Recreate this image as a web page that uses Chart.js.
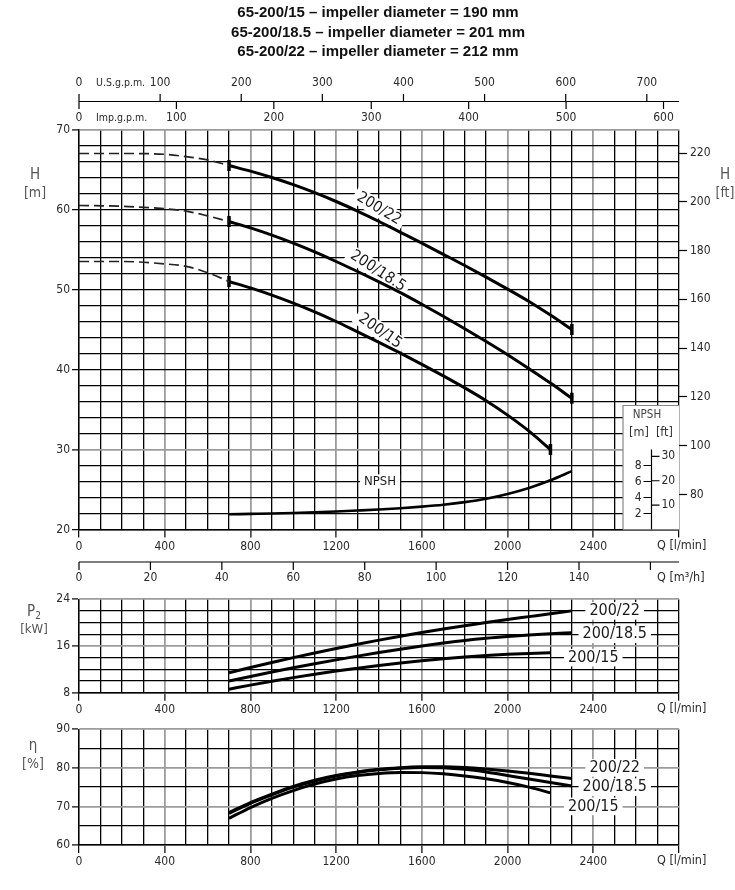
<!DOCTYPE html>
<html>
<head>
<meta charset="utf-8">
<script src="https://cdn.jsdelivr.net/npm/chart.js@4.4.1/dist/chart.umd.min.js"></script>
<style>
  body { margin: 0; background: #fff; }
  #wrap { position: relative; width: 735px; height: 890px; }
  canvas { position: absolute; left: 0; }
</style>
</head>
<body>
<div id="wrap">
  <canvas id="head" width="735" height="590" style="top:0"></canvas>
  <canvas id="power" width="735" height="130" style="top:590px"></canvas>
  <canvas id="eff" width="735" height="170" style="top:720px"></canvas>
</div>
<script>
// flow in l/min
const qDash = [0, 200, 400, 500, 600, 700];
const qFlow = [700, 800, 900, 1000, 1100, 1200, 1300, 1400, 1500, 1600, 1700, 1800, 1900, 2000, 2100, 2200, 2300];

// head H [m]
const hDash22  = [67.0, 67.0, 66.9, 66.6, 66.2, 65.5];
const hDash185 = [60.5, 60.4, 60.1, 59.8, 59.2, 58.5];
const hDash15  = [53.5, 53.5, 53.2, 52.9, 52.1, 51.0];
const h22  = [65.5, 64.8, 64.0, 63.1, 62.1, 61.0, 59.8, 58.5, 57.15, 55.8, 54.4, 53.0, 51.55, 50.05, 48.5, 46.8, 45.0];
const h185 = [58.5, 57.7, 56.8, 55.8, 54.7, 53.5, 52.25, 50.95, 49.6, 48.15, 46.65, 45.1, 43.5, 41.85, 40.1, 38.3, 36.4];
const h15  = [51.0, 50.2, 49.3, 48.3, 47.2, 46.0, 44.7, 43.4, 42.05, 40.65, 39.2, 37.7, 36.1, 34.3, 32.3, 30.0];

// NPSH [m]
const npsh = [1.9, 1.95, 2.0, 2.07, 2.15, 2.25, 2.37, 2.5, 2.66, 2.86, 3.1, 3.42, 3.85, 4.45, 5.2, 6.15, 7.3];

// power P2 [kW]
const p22  = [11.4, 12.3, 13.17, 14.0, 14.8, 15.57, 16.3, 17.0, 17.67, 18.3, 18.9, 19.47, 20.0, 20.52, 21.02, 21.52, 22.0];
const p185 = [10.0, 10.78, 11.54, 12.26, 12.95, 13.62, 14.26, 14.87, 15.45, 16.0, 16.5, 16.95, 17.32, 17.62, 17.88, 18.08, 18.25];
const p15  = [8.6, 9.3, 9.96, 10.58, 11.16, 11.7, 12.2, 12.66, 13.08, 13.46, 13.8, 14.1, 14.36, 14.57, 14.72, 14.82];

// efficiency [%]
const e22  = [68.4, 71.0, 73.2, 75.2, 76.8, 78.0, 78.9, 79.6, 80.0, 80.25, 80.3, 80.1, 79.7, 79.2, 78.6, 77.9, 77.2];
const e185 = [68.2, 70.8, 73.0, 75.0, 76.6, 77.9, 78.8, 79.5, 79.9, 80.1, 80.0, 79.6, 78.9, 78.0, 77.1, 76.2, 75.3];
const e15  = [66.9, 69.7, 72.1, 74.1, 75.8, 77.1, 78.0, 78.55, 78.8, 78.75, 78.45, 77.9, 77.15, 76.2, 75.0, 73.5];

// secondary scales
const usTicks = [0, 100, 200, 300, 400, 500, 600, 700];
const impTicks = [0, 100, 200, 300, 400, 500, 600];
const m3hTicks = [0, 20, 40, 60, 80, 100, 120, 140, 160];
const ftTicks = [80, 100, 120, 140, 160, 180, 200, 220];
const npshMTicks = [2, 4, 6, 8];
const npshFtTicks = [10, 20, 30];

const titles = [
  '65-200/15 \u2013 impeller diameter = 190 mm',
  '65-200/18.5 \u2013 impeller diameter = 201 mm',
  '65-200/22 \u2013 impeller diameter = 212 mm'
];

const US_GPM = 3.785411784, IMP_GPM = 4.54609, FT = 0.3048;
const NARROW = "'Liberation Sans Narrow', 'DejaVu Sans Condensed', sans-serif";
const BLACK = '#000', GREY = '#9c9c9c', TXT = '#2a2a2a';

Chart.defaults.font.family = NARROW;
Chart.defaults.font.size = 12;
Chart.defaults.color = TXT;

function pts(xs, ys) {
  return ys.map((y, i) => ({ x: xs[i], y: y }));
}

function endMark(c) {
  const n = c.dataset.data.length;
  return (c.dataIndex === 0 || c.dataIndex === n - 1) ? 5.5 : 0;
}

function solid(xs, ys, marks) {
  return {
    data: pts(xs, ys), borderColor: '#000', borderWidth: 3,
    cubicInterpolationMode: 'monotone',
    pointRadius: marks ? endMark : 0, pointStyle: 'line', pointRotation: 90,
    pointBorderWidth: 3.5, pointBorderColor: '#000', pointBackgroundColor: '#000'
  };
}

function dashed(xs, ys) {
  return {
    data: pts(xs, ys), borderColor: '#222', borderWidth: 1.7, borderDash: [10, 5],
    cubicInterpolationMode: 'monotone', pointRadius: 0
  };
}

function isGreyQ(v) {
  return v % 400 === 0 && v > 0 && v < 2800;
}

function qAxis(height) {
  return {
    type: 'linear', position: 'bottom', min: 0, max: 2800,
    afterFit: s => { s.height = height; },
    ticks: {
      stepSize: 100, autoSkip: false, maxRotation: 0, padding: 2,
      callback: v => (v % 400 === 0 && v < 2800) ? String(v) : ''
    },
    grid: {
      tickLength: 8,
      color: c => (c.tick && isGreyQ(c.tick.value)) ? GREY : BLACK,
      lineWidth: c => (c.tick && isGreyQ(c.tick.value)) ? 1.8 : 1.3,
      tickColor: c => (c.tick && c.tick.value % 400 === 0) ? BLACK : 'rgba(0,0,0,0)',
      tickWidth: 1.2
    },
    border: { color: BLACK, width: 1.4 }
  };
}

function valAxis(min, max, step, labelEvery, greyAt) {
  return {
    position: 'left', min: min, max: max,
    afterFit: s => { s.width = 79; },
    ticks: { stepSize: step, autoSkip: false, padding: 2, callback: v => (v % labelEvery === 0) ? String(v) : '' },
    grid: {
      tickLength: 7,
      color: c => (c.tick && greyAt(c.tick.value)) ? GREY : BLACK,
      lineWidth: c => (c.tick && greyAt(c.tick.value)) ? 1.8 : 1.3,
      tickColor: c => (c.tick && c.tick.value % labelEvery === 0) ? BLACK : 'rgba(0,0,0,0)',
      tickWidth: 1.2
    },
    border: { color: BLACK, width: 1.4 }
  };
}

function text(ctx, s, x, y, font, align, color) {
  ctx.font = font;
  ctx.fillStyle = color || TXT;
  ctx.textAlign = align || 'center';
  ctx.textBaseline = 'middle';
  ctx.fillText(s, x, y);
}

function boxed(ctx, s, x, y, angle, size) {
  ctx.save();
  ctx.translate(x, y);
  ctx.rotate(angle * Math.PI / 180);
  ctx.font = size + 'px ' + NARROW;
  const w = ctx.measureText(s).width;
  ctx.fillStyle = '#fff';
  ctx.fillRect(-w / 2 - 4, -size * 0.55, w + 8, size * 1.1);
  text(ctx, s, 0, 0, size + 'px ' + NARROW, 'center', '#1a1a1a');
  ctx.restore();
}

function sideTitle(ctx, top, bottom, x, y) {
  text(ctx, top, x, y, '15px ' + NARROW, 'center', '#555');
  text(ctx, bottom, x, y + 18, '14px ' + NARROW, 'center', '#555');
}

function qUnit(chart) {
  const ca = chart.chartArea;
  text(chart.ctx, 'Q [l/min]', 657, ca.bottom + 16, '12.5px ' + NARROW, 'left');
}

const headPlugin = {
  id: 'headDecor',
  beforeDatasetsDraw(chart) {
    const ctx = chart.ctx, xs = chart.scales.x, ys = chart.scales.y, ns = chart.scales.npsh;
    const ca = chart.chartArea;
    // curve names
    boxed(ctx, '200/22', xs.getPixelForValue(1400), ys.getPixelForValue(60.1), 31, 15.5);
    boxed(ctx, '200/18.5', xs.getPixelForValue(1395), ys.getPixelForValue(52.3), 33, 15.5);
    boxed(ctx, '200/15', xs.getPixelForValue(1405), ys.getPixelForValue(44.8), 35, 15.5);
    boxed(ctx, 'NPSH', xs.getPixelForValue(1405), ys.getPixelForValue(26.0), 0, 13);

    // NPSH inset scale
    const bl = ca.right - 56, bt = ca.bottom - 124;
    ctx.fillStyle = '#fff';
    ctx.fillRect(bl, bt, ca.right - bl, ca.bottom - bt);
    ctx.strokeStyle = '#888';
    ctx.lineWidth = 1.2;
    ctx.beginPath();
    ctx.moveTo(bl, ca.bottom); ctx.lineTo(bl, bt); ctx.lineTo(ca.right, bt);
    ctx.stroke();
    text(ctx, 'NPSH', bl + 24, bt + 10, '11.5px ' + NARROW, 'center', '#444');
    text(ctx, '[m]  [ft]', bl + 28, bt + 27, '12.5px ' + NARROW, 'center', '#333');
    const ax = ca.right - 27.5;
    ctx.strokeStyle = BLACK;
    ctx.lineWidth = 1.2;
    ctx.beginPath();
    ctx.moveTo(ax, ns.getPixelForValue(10)); ctx.lineTo(ax, ca.bottom);
    npshMTicks.forEach(v => {
      const py = ns.getPixelForValue(v);
      ctx.moveTo(ax - 8, py); ctx.lineTo(ax, py);
    });
    npshFtTicks.forEach(v => {
      const py = ns.getPixelForValue(v * FT);
      ctx.moveTo(ax, py); ctx.lineTo(ax + 8, py);
    });
    ctx.stroke();
    npshMTicks.forEach(v => text(ctx, String(v), ax - 10, ns.getPixelForValue(v), '12px ' + NARROW, 'right'));
    npshFtTicks.forEach(v => text(ctx, String(v), ax + 10, ns.getPixelForValue(v * FT), '12px ' + NARROW, 'left'));
  },
  afterDraw(chart) {
    const ctx = chart.ctx, xs = chart.scales.x, ca = chart.chartArea;
    // title
    titles.forEach((t, i) => text(ctx, t, 378, 13 + i * 19.5, 'bold 15px "Liberation Sans", Arial, sans-serif', 'center', '#111'));

    // U.S.g.p.m. / Imp.g.p.m. scales
    ctx.strokeStyle = BLACK;
    ctx.lineWidth = 1.2;
    ctx.beginPath();
    ctx.moveTo(ca.left, 101.5); ctx.lineTo(ca.right, 101.5);
    usTicks.forEach(v => {
      const px = xs.getPixelForValue(v * US_GPM);
      ctx.moveTo(px, 94); ctx.lineTo(px, 101.5);
    });
    impTicks.forEach(v => {
      const px = xs.getPixelForValue(v * IMP_GPM);
      ctx.moveTo(px, 101.5); ctx.lineTo(px, 109);
    });
    ctx.stroke();
    usTicks.forEach(v => text(ctx, String(v), xs.getPixelForValue(v * US_GPM), 83, '12px ' + NARROW));
    impTicks.forEach(v => text(ctx, String(v), xs.getPixelForValue(v * IMP_GPM), 118, '12px ' + NARROW));
    text(ctx, 'U.S.g.p.m.', 96, 83, '10.5px ' + NARROW, 'left');
    text(ctx, 'Imp.g.p.m.', 96, 118, '10.5px ' + NARROW, 'left');

    // m3/h scale
    const my = 562;
    ctx.beginPath();
    ctx.moveTo(ca.left, my); ctx.lineTo(ca.right, my);
    m3hTicks.forEach(v => {
      const px = xs.getPixelForValue(v * 1000 / 60);
      ctx.moveTo(px, my); ctx.lineTo(px, my + 8);
    });
    ctx.stroke();
    m3hTicks.filter(v => v < 160).forEach(v => text(ctx, String(v), xs.getPixelForValue(v * 1000 / 60), 578, '12px ' + NARROW));
    text(ctx, 'Q [m\u00B3/h]', 657, 578, '12.5px ' + NARROW, 'left');

    qUnit(chart);
    sideTitle(ctx, 'H', '[m]', 35, 175);
    sideTitle(ctx, 'H', '[ft]', 725, 175);
  }
};

const headChart = new Chart(document.getElementById('head'), {
  type: 'line',
  data: {
    datasets: [
      dashed(qDash, hDash22), dashed(qDash, hDash185), dashed(qDash, hDash15),
      solid(qFlow, h22, true), solid(qFlow, h185, true), solid(qFlow, h15, true),
      Object.assign(solid(qFlow, npsh, false), { yAxisID: 'npsh', borderWidth: 2.6 })
    ]
  },
  options: {
    responsive: false,
    animation: false,
    layout: { padding: { top: 129.5 } },
    plugins: { legend: { display: false }, tooltip: { enabled: false } },
    scales: {
      x: qAxis(60.5),
      y: valAxis(20, 70, 2, 10, v => v === 30 || v === 70),
      ft: {
        axis: 'y', position: 'right', min: 20 / FT, max: 70 / FT,
        afterBuildTicks: s => { s.ticks = ftTicks.map(v => ({ value: v })); },
        afterFit: s => { s.width = 56; },
        ticks: { padding: 3, autoSkip: false },
        grid: { drawOnChartArea: false, tickLength: 8, tickColor: BLACK, tickWidth: 1.2 },
        border: { display: false }
      },
      npsh: { axis: 'y', position: 'left', display: false, min: 0, max: 50 }
    }
  },
  plugins: [headPlugin]
});

function labelsRight(chart, vals) {
  const ctx = chart.ctx, xs = chart.scales.x, ys = chart.scales.y;
  boxed(ctx, '200/22', xs.getPixelForValue(2500), ys.getPixelForValue(vals[0]), 0, 16);
  boxed(ctx, '200/18.5', xs.getPixelForValue(2500), ys.getPixelForValue(vals[1]), 0, 16);
  boxed(ctx, '200/15', xs.getPixelForValue(2400), ys.getPixelForValue(vals[2]), 0, 16);
}

const powerChart = new Chart(document.getElementById('power'), {
  type: 'line',
  data: { datasets: [solid(qFlow, p22, false), solid(qFlow, p185, false), solid(qFlow, p15, false)] },
  options: {
    responsive: false,
    animation: false,
    layout: { padding: { top: 3.3, right: 56 } },
    plugins: { legend: { display: false }, tooltip: { enabled: false } },
    scales: {
      x: qAxis(27.3),
      y: valAxis(8, 24, 2, 8, v => v % 8 === 0)
    }
  },
  plugins: [{
    id: 'powerDecor',
    beforeDatasetsDraw(chart) { labelsRight(chart, [22, 18, 14]); },
    afterDraw(chart) {
      const ctx = chart.ctx;
      qUnit(chart);
      text(ctx, 'P', 31, 22, '15px ' + NARROW, 'center', '#555');
      text(ctx, '2', 38, 26, '10px ' + NARROW, 'center', '#555');
      text(ctx, '[kW]', 34, 40, '13px ' + NARROW, 'center', '#555');
    }
  }]
});

const effChart = new Chart(document.getElementById('eff'), {
  type: 'line',
  data: { datasets: [solid(qFlow, e22, false), solid(qFlow, e185, false), solid(qFlow, e15, false)] },
  options: {
    responsive: false,
    animation: false,
    layout: { padding: { top: 5, right: 56 } },
    plugins: { legend: { display: false }, tooltip: { enabled: false } },
    scales: {
      x: qAxis(45),
      y: valAxis(60, 90, 5, 10, v => v % 10 === 0)
    }
  },
  plugins: [{
    id: 'effDecor',
    beforeDatasetsDraw(chart) { labelsRight(chart, [80, 75, 70]); },
    afterDraw(chart) {
      const ctx = chart.ctx;
      qUnit(chart);
      sideTitle(ctx, '\u03B7', '[%]', 33, 26);
    }
  }]
});
</script>
</body>
</html>
